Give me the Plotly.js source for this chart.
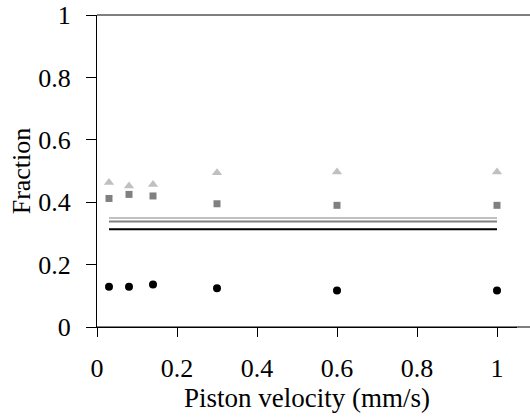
<!DOCTYPE html>
<html>
<head>
<meta charset="utf-8">
<script src="https://cdn.plot.ly/plotly-3.0.1.min.js"></script>
<style>html,body{margin:0;padding:0;background:#fff;overflow:hidden;}#chart{width:530px;height:419px;}</style>
</head>
<body>
<div id="chart"></div>
<script>
var velocity = [0.03, 0.08, 0.14, 0.3, 0.6, 1.0];
var triangleSeries = [0.463, 0.452, 0.457, 0.494, 0.497, 0.497];
var squareSeries = [0.412, 0.425, 0.420, 0.395, 0.390, 0.390];
var circleSeries = [0.129, 0.129, 0.136, 0.124, 0.117, 0.117];
var lineX = [0.03, 1.0];
var lightLine = [0.349, 0.349];
var grayLine = [0.338, 0.338];
var blackLine = [0.313, 0.313];
var yTicks = [0, 0.2, 0.4, 0.6, 0.8, 1];
var yTickText = ['0', '0.2', '0.4', '0.6', '0.8', '1'];
var xTicks = [0, 0.2, 0.4, 0.6, 0.8, 1];
var xTickText = ['0', '0.2', '0.4', '0.6', '0.8', '1'];

var tickFont = {family: 'Liberation Serif', size: 26, color: '#000'};
var titleFont = {family: 'Liberation Serif', size: 27, color: '#000'};

var traces = [
  {x: lineX, y: lightLine, mode: 'lines', line: {color: '#c0c0c0', width: 2}, hoverinfo: 'skip'},
  {x: lineX, y: grayLine, mode: 'lines', line: {color: '#808080', width: 2}, hoverinfo: 'skip'},
  {x: lineX, y: blackLine, mode: 'lines', line: {color: '#000000', width: 2}, hoverinfo: 'skip'},
  {x: velocity, y: triangleSeries, mode: 'markers', marker: {symbol: 'triangle-up', size: 9, color: '#c0c0c0'}},
  {x: velocity, y: squareSeries, mode: 'markers', marker: {symbol: 'square', size: 7, color: '#808080'}},
  {x: velocity, y: circleSeries, mode: 'markers', marker: {symbol: 'circle', size: 8, color: '#000000'}}
];

var layout = {
  width: 530, height: 419,
  margin: {l: 97, r: 13, t: 15, b: 92, pad: 0},
  paper_bgcolor: '#fff', plot_bgcolor: '#fff',
  showlegend: false,
  font: tickFont,
  shapes: [
    {type: 'line', xref: 'paper', yref: 'paper', x0: 0, x1: 1.05, y0: 1, y1: 1, line: {color: '#000', width: 1}},
    {type: 'line', xref: 'paper', yref: 'paper', x0: 0, x1: 1.05, y0: 0, y1: 0, line: {color: '#000', width: 1}}
  ],
  xaxis: {
    range: [0, 1.05], showgrid: false, zeroline: false,
    showline: true, linecolor: '#000', linewidth: 1,
    ticks: 'outside', ticklen: 9, tickcolor: '#000', tickwidth: 1,
    tickvals: xTicks, ticktext: xTickText, tickfont: tickFont,
    ticklabelstandoff: 9,
    title: {text: 'Piston velocity (mm/s)', font: titleFont, standoff: 5}
  },
  yaxis: {
    range: [0, 1], showgrid: false, zeroline: false,
    showline: true, linecolor: '#000', linewidth: 1,
    ticks: 'outside', ticklen: 10, tickcolor: '#000', tickwidth: 1,
    tickvals: yTicks, ticktext: yTickText, tickfont: tickFont,
    ticklabelstandoff: 10,
    title: {text: 'Fraction', font: tickFont, standoff: 0}
  }
};

Plotly.newPlot('chart', traces, layout, {staticPlot: true});
</script>
</body>
</html>
